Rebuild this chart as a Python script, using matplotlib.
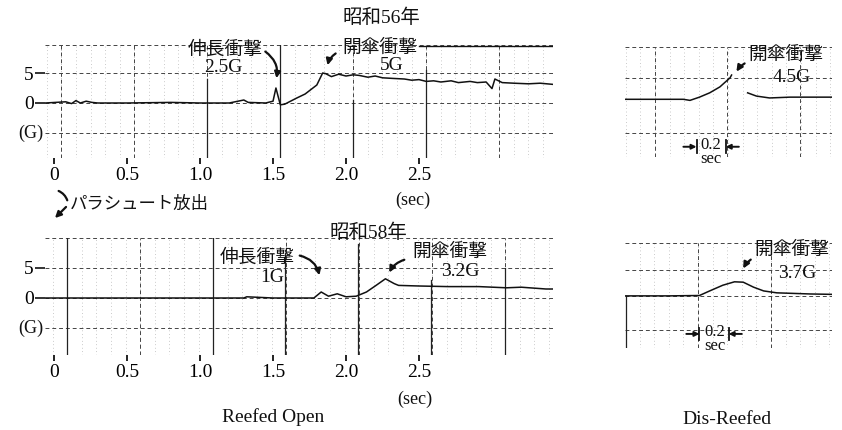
"""
昭和56年・58年 落下傘投下試験の加速度波形 (Reefed Open / Dis-Reefed)
"""
import numpy as np
import matplotlib.pyplot as plt
from matplotlib.patches import FancyArrowPatch

plt.rcParams['font.family'] = ['Liberation Serif', 'Noto Sans CJK JP']

# 昭和56年 Reefed Open (sec, G)
t56 = [-0.06, 0.08, 0.12, 0.15, 0.18, 0.22, 0.26, 0.30, 0.50, 0.80, 1.00, 1.20,
       1.30, 1.33, 1.45, 1.50, 1.52, 1.55, 1.58, 1.66, 1.72, 1.80, 1.84, 1.86,
       1.90, 1.95, 2.00, 2.05, 2.09, 2.15, 2.20, 2.25, 2.32, 2.40, 2.45, 2.50,
       2.55, 2.60, 2.65, 2.72, 2.77, 2.85, 2.90, 2.96, 3.00, 3.02, 3.07, 3.15,
       3.25, 3.33, 3.42]
g56 = [0.0, 0.2, -0.1, 0.4, 0.0, 0.3, 0.1, 0.0, 0.0, 0.1, 0.0, 0.0,
       0.5, 0.1, 0.0, 0.3, 2.5, -0.3, -0.2, 0.8, 1.5, 3.0, 5.0, 4.9,
       4.4, 4.8, 4.5, 4.7, 4.6, 4.3, 4.5, 4.2, 4.1, 4.0, 3.8, 3.9,
       3.6, 3.7, 3.5, 3.7, 3.4, 3.6, 3.4, 3.5, 2.4, 4.0, 3.4, 3.3,
       3.2, 3.3, 3.1]

# 昭和56年 Dis-Reefed
tr56 = [0.0, 0.20, 0.40, 0.445, 0.51, 0.58, 0.65, 0.72, 0.73, np.nan,
        0.84, 0.90, 0.99, 1.13, 1.27, 1.42]
gr56 = [0.0, 0.0, 0.0, -0.2, 0.4, 1.2, 2.3, 4.0, 4.5, np.nan,
        1.2, 0.6, 0.25, 0.4, 0.4, 0.4]

# 昭和58年 Reefed Open
t58 = [-0.06, 0.50, 1.00, 1.30, 1.32, 1.50, 1.78, 1.83, 1.88, 1.94, 2.00,
       2.07, 2.14, 2.20, 2.27, 2.33, 2.36, 2.50, 2.70, 2.91, 3.10, 3.20,
       3.37, 3.42]
g58 = [0.0, 0.0, 0.0, 0.0, 0.2, 0.0, 0.0, 1.0, 0.3, 0.7, 0.2,
       0.3, 1.0, 2.0, 3.2, 2.4, 2.1, 2.0, 1.9, 1.9, 1.7, 1.8,
       1.5, 1.5]

# 昭和58年 Dis-Reefed
tr58 = [0.0, 0.30, 0.51, 0.58, 0.67, 0.75, 0.81, 0.88, 0.95, 1.04, 1.27, 1.42]
gr58 = [0.0, 0.0, 0.1, 1.3, 2.8, 3.7, 3.6, 2.3, 1.3, 0.8, 0.5, 0.4]

xticks = [0, 0.5, 1.0, 1.5, 2.0, 2.5]
xticklabels = ['0', '0.5', '1.0', '1.5', '2.0', '2.5']

W, H = 842, 430
fig = plt.figure(figsize=(W / 100, H / 100), dpi=100)
fig.patch.set_facecolor('white')


def fp(x, y):
    return x / W, 1 - y / H


def panel(x0, y0, x1, y1, xlim, ylim):
    ax = fig.add_axes([x0 / W, 1 - y1 / H, (x1 - x0) / W, (y1 - y0) / H])
    ax.set_xlim(*xlim)
    ax.set_ylim(*ylim)
    for s in ax.spines.values():
        s.set_visible(False)
    ax.set_xticks([])
    ax.set_yticks([])
    return ax


def grid(ax, vmajor, hlines, solid=(), minor_step=0.1):
    x0, x1 = ax.get_xlim()
    for t in np.arange(vmajor[0] - 10 * minor_step, x1, minor_step):
        if t > x0:
            ax.axvline(t, color='#999999', lw=0.5, ls=(0, (1, 4)))
    for t in vmajor:
        ax.axvline(t, color='#444444', lw=0.7, ls=(0, (4, 3)))
    for g in hlines:
        ax.axhline(g, color='#444444', lw=0.7, ls=(0, (4, 3)))
    for t, a, b in solid:
        ax.plot([t, t], [a, b], color='#222222', lw=0.9)


def txt(x, y, s, size=14, ha='center', ls=1.2):
    fig.text(*fp(x, y), s, fontsize=size, ha=ha, va='center', color='#111111',
             linespacing=ls)


def arrow(a, b, rad, head=True):
    style = '-|>' if head else '-'
    fig.add_artist(FancyArrowPatch(fp(*a), fp(*b), transform=fig.transFigure,
                                   arrowstyle=style, mutation_scale=9, lw=1.6,
                                   color='#111111',
                                   connectionstyle=f'arc3,rad={rad}'))


def left_axes(ax):
    ax.set_xticks(xticks)
    ax.set_xticklabels(xticklabels)
    ax.set_yticks([5, 0])
    ax.set_yticklabels(['5', '0'])
    ax.tick_params(axis='x', direction='out', length=4.5, width=1.3, pad=2,
                   labelsize=14, color='#111111')
    ax.tick_params(axis='y', direction='out', length=7, width=1.2, pad=1,
                   labelsize=14, color='#111111')


def time_bar(ax, t1, t2, y, dy):
    for t in (t1, t2):
        ax.plot([t, t], [y - dy, y + dy], color='#111111', lw=1.3)
    ax.annotate('', xy=(t1, y), xytext=(t1 - 0.09, y),
                arrowprops=dict(arrowstyle='-|>', lw=1.4, color='#111111',
                                mutation_scale=7, shrinkA=0, shrinkB=0))
    ax.annotate('', xy=(t2, y), xytext=(t2 + 0.09, y),
                arrowprops=dict(arrowstyle='-|>', lw=1.4, color='#111111',
                                mutation_scale=7, shrinkA=0, shrinkB=0))


# ---- 昭和56年 ----
ax1 = panel(45, 45, 553, 158, (-0.062, 3.418), (-9.17, 9.67))
grid(ax1, [0.05 + 0.5 * k for k in range(7)], [9.67, 5, 0, -5, -9.17],
     solid=[(1.05, -9.17, 4.0), (1.55, -9.17, 9.67), (2.05, -9.17, 0.5),
            (2.55, -9.17, 5.5)])
ax1.plot([2.5, 3.418], [9.5, 9.5], color='#111111', lw=1.0)
ax1.plot(t56, g56, color='#111111', lw=1.1)
left_axes(ax1)

ax2 = panel(625, 47, 832, 157, (0, 1.418), (-10.7, 9.7))
grid(ax2, [0.205, 0.70, 1.2], [9.7, 3.9, -6.2, -10.7])
ax2.plot(tr56, gr56, color='#111111', lw=1.1)
time_bar(ax2, 0.49, 0.69, -8.8, 1.2)

# ---- 昭和58年 ----
ax3 = panel(45, 238, 553, 355, (-0.062, 3.418), (-9.5, 10.0))
grid(ax3, [0.09 + 0.5 * k for k in range(7)], [10.0, 5, 0, -5, -9.5],
     solid=[(0.09, -9.5, 10.0), (1.09, -9.5, 10.0), (1.58, -9.5, 7.5),
            (2.08, -9.5, 9.0), (2.58, -9.5, 3.0), (3.09, -9.5, 5.0)])
ax3.plot(t58, g58, color='#111111', lw=1.1)
left_axes(ax3)

ax4 = panel(625, 243, 832, 348, (0, 1.418), (-13.7, 13.9))
grid(ax4, [0.5, 1.0], [13.9, 6.8, 0, -8.9, -13.7],
     solid=[(0.005, -13.7, 0.0)])
ax4.plot(tr58, gr58, color='#111111', lw=1.1)
time_bar(ax4, 0.51, 0.71, -10.0, 1.6)

# ---- 文字・矢印 ----
txt(381, 18, '昭和56年')
txt(225, 50, '伸長衝撃', 13.5)
txt(223, 68, '2.5G')
arrow((263, 50), (276, 81), -0.35)
txt(380, 48, '開傘衝撃', 13.5)
txt(392, 66, '5G')
arrow((338, 52), (327, 68), 0.25)
txt(786, 55, '開傘衝撃', 13.5)
txt(792, 77, '4.5G')
arrow((747, 62), (735, 74), 0.15)
txt(711, 152, '0.2\nsec', 12, ls=0.85)
txt(31, 133, '(G)', 13)
txt(413, 200, '(sec)', 13)

txt(70, 205, 'パラシュート放出', 12.5, ha='left')
arrow((56, 190), (68, 203), -0.3, head=False)
arrow((68, 205), (53, 220), 0.0)

txt(368, 233, '昭和58年')
txt(257, 258, '伸長衝撃', 13.5)
txt(272, 278, '1G')
arrow((297, 255), (320, 278), -0.35)
txt(450, 252, '開傘衝撃', 13.5)
txt(460, 272, '3.2G')
arrow((407, 259), (388, 275), 0.25)
txt(792, 250, '開傘衝撃', 13.5)
txt(797, 273, '3.7G')
arrow((753, 258), (742, 271), 0.15)
txt(715, 339, '0.2\nsec', 12, ls=0.85)
txt(31, 328, '(G)', 13)
txt(415, 399, '(sec)', 13)

txt(273, 417, 'Reefed Open', 14)
txt(727, 420, 'Dis-Reefed', 14)

fig.savefig('out.png', dpi=100, facecolor='white')
